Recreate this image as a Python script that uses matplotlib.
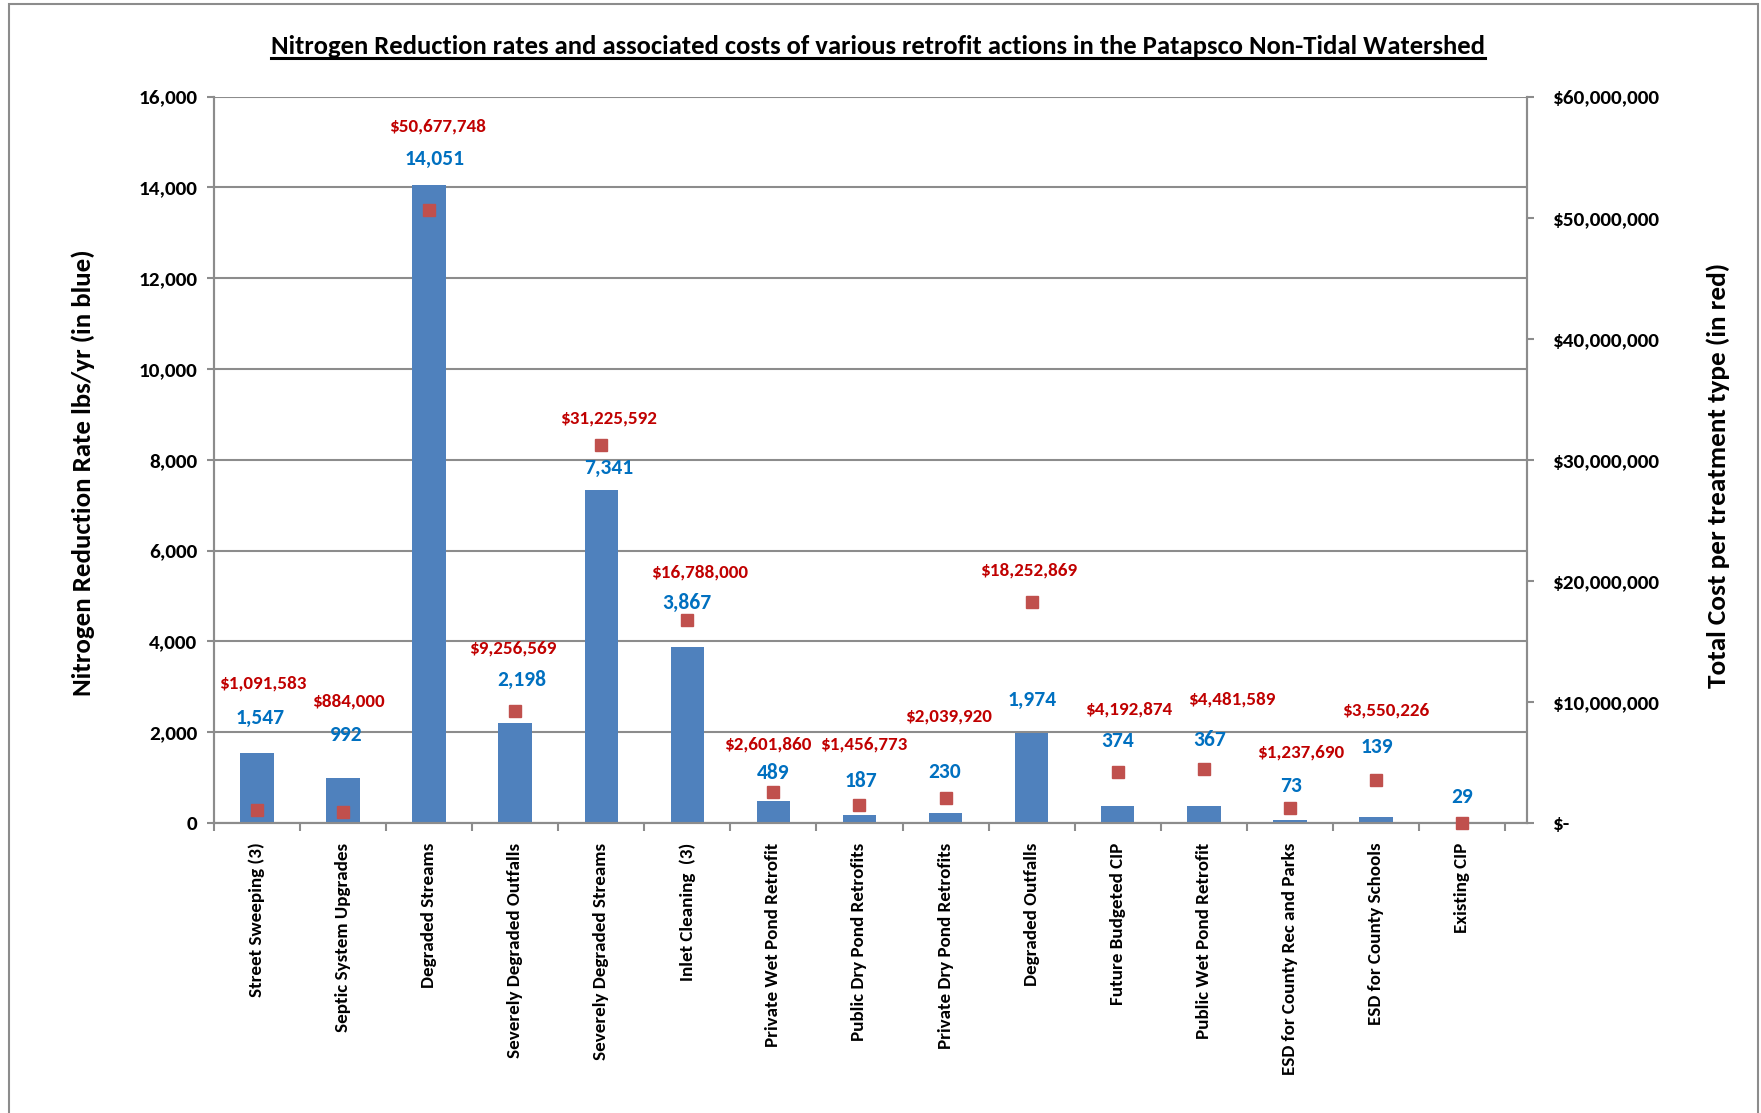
import matplotlib
matplotlib.use("Agg")
import matplotlib.pyplot as plt
import numpy as np
from matplotlib.ticker import FuncFormatter, FixedLocator
from matplotlib.lines import Line2D
from matplotlib.patches import Rectangle

plt.rcParams['font.family'] = ['Carlito', 'DejaVu Sans']
plt.rcParams['font.weight'] = 'bold'

categories = ["Street Sweeping (3)", "Septic System Upgrades", "Degraded Streams",
              "Severely Degraded Outfalls", "Severely Degraded Streams", "Inlet Cleaning  (3)",
              "Private Wet Pond Retrofit", "Public Dry Pond Retrofits", "Private Dry Pond Retrofits",
              "Degraded Outfalls", "Future Budgeted CIP", "Public Wet Pond Retrofit",
              "ESD for County Rec and Parks", "ESD for County Schools", "Existing CIP"]
nitrogen = [1547, 992, 14051, 2198, 7341, 3867, 489, 187, 230, 1974, 374, 367, 73, 139, 29]
costs = [1091583, 884000, 50677748, 9256569, 31225592, 16788000, 2601860, 1456773,
         2039920, 18252869, 4192874, 4481589, 1237690, 3550226, 0]

left_ticks = [0, 2000, 4000, 6000, 8000, 10000, 12000, 14000, 16000]
right_ticks = [0, 10e6, 20e6, 30e6, 40e6, 50e6, 60e6]

# label offsets in points relative to the data point (layout only)
blue_dx = [2, 2, 4, 5, 5, 0, 0, 1, -1, 0, 0, 4, 1, 1, 0]
blue_dy = [25, 31, 19, 31, 16, 32, 20, 24, 29, 24, 47, 48, 24, 50, 18]
red_dx = [4, 4, 6, -2, 5, 9, -4, 3, 2, -2, 8, 20, 8, 7, 0]
red_dy = [91, 80, 60, 45, 19, 34, 34, 44, 59, 23, 45, 50, 40, 50, 0]

BAR = '#4F81BD'
MARK = '#C0504D'
BLUE_TXT = '#0070C0'
RED_TXT = '#C00000'
GRID = '#8C8C8C'
W, H = 1761, 1113

fig = plt.figure(figsize=(W / 100, H / 100), dpi=100)
fig.patches.append(Rectangle((9 / W, -0.01), (1758 - 9) / W, 1 - 4 / H + 0.01,
                             transform=fig.transFigure, fill=False, edgecolor='#8C8C8C',
                             linewidth=1.5))
L, R, T, B = 214, 1527, 96.7, 823
ax1 = fig.add_axes([L / W, 1 - B / H, (R - L) / W, (B - T) / H])
ax2 = ax1.twinx()

n = len(categories)
x = np.arange(n)
ax1.bar(x, nitrogen, width=0.39, color=BAR, zorder=2)
# category area ends slightly before the right axis line (as in the original)
ax1.set_xlim(-0.5, n - 0.5 + 0.256)
ax1.set_ylim(0, 16000)
ax1.set_yticks(left_ticks)
ax1.yaxis.set_major_formatter(FuncFormatter(lambda v, p: f"{int(v):,}"))
ax1.grid(axis='y', color=GRID, linewidth=1.5, zorder=0)
ax1.set_axisbelow(True)

ax2.plot(x, costs, linestyle='none', marker='s', markersize=9.1, color=MARK, zorder=5,
         clip_on=False)
ax2.set_ylim(0, 60e6)
ax2.set_yticks(right_ticks)
ax2.yaxis.set_major_formatter(FuncFormatter(lambda v, p: "$-" if v == 0 else f"${int(v):,}"))

for ax in (ax1, ax2):
    ax.spines['top'].set_visible(False)
    for s in ('left', 'right', 'bottom'):
        ax.spines[s].set_color(GRID)
        ax.spines[s].set_linewidth(1.5)

ax1.set_xticks(x)
ax1.set_xticklabels(categories, rotation=90, fontsize=13.7, fontweight='bold', va='top')
ax1.tick_params(axis='x', which='major', length=0, pad=14)
ax1.xaxis.set_minor_locator(FixedLocator(np.arange(-0.5, n, 1.0)))
ax1.tick_params(axis='x', which='minor', length=6, width=1.5, color=GRID, direction='out')
ax1.tick_params(axis='y', length=5, width=1.5, color=GRID, labelsize=15.3, pad=7)
ax2.tick_params(axis='y', length=5, width=1.5, color=GRID, labelsize=15.3, pad=14)
for lab in ax1.get_yticklabels() + ax2.get_yticklabels():
    lab.set_fontweight('bold')

fig.text(83 / W, 1 - 473 / H, "Nitrogen Reduction Rate lbs/yr (in blue)", rotation=90,
         ha='center', va='center', fontsize=19.4, fontweight='bold')
fig.text(1718 / W, 1 - 475 / H, "Total Cost per treatment type (in red)", rotation=90,
         ha='center', va='center', fontsize=19.6, fontweight='bold')

for i, v in enumerate(nitrogen):
    ax1.annotate(f"{v:,}", (x[i], v), xytext=(blue_dx[i], blue_dy[i]), textcoords='offset points',
                 ha='center', va='center', color=BLUE_TXT, fontsize=15.5, fontweight='bold',
                 zorder=6)
for i, c in enumerate(costs):
    if c == 0:
        continue
    ax2.annotate(f"${c:,}", (x[i], c), xytext=(red_dx[i], red_dy[i]), textcoords='offset points',
                 ha='center', va='center', color=RED_TXT, fontsize=13.8, fontweight='bold',
                 zorder=6)

title = fig.text(878 / W, 1 - 47 / H,
                 "Nitrogen Reduction rates and associated costs of various retrofit actions in the Patapsco Non-Tidal Watershed",
                 ha='center', va='center', fontsize=19.2, fontweight='bold')
fig.canvas.draw()
bb = title.get_window_extent(fig.canvas.get_renderer())
yline = (bb.y0 + 1) / fig.bbox.height
fig.add_artist(Line2D([bb.x0 / fig.bbox.width, bb.x1 / fig.bbox.width], [yline, yline],
                      transform=fig.transFigure, color='black', linewidth=2.2))

fig.savefig("out.png", dpi=100)
